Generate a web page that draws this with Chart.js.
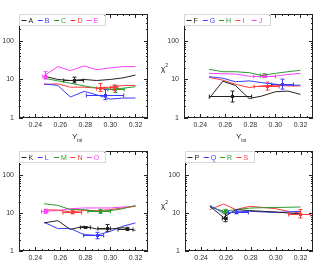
<!DOCTYPE html>
<html>
<head>
<meta charset="utf-8">
<script src="https://cdn.jsdelivr.net/npm/chart.js@4.4.0/dist/chart.umd.min.js"></script>
<style>
body { margin: 0; width: 333px; height: 267px; position: relative; background: #fff; overflow: hidden; font-family: "Liberation Sans", Arial, sans-serif; }
canvas { position: absolute; left: 0; top: 0; }
.lbl { position: absolute; font-size: 8px; color: #222; white-space: nowrap; line-height: 8px; }
.lbl sub, .lbl sup { font-size: 5px; }
</style>
</head>
<body>
<canvas id="p1" width="333" height="267"></canvas>
<canvas id="p2" width="333" height="267"></canvas>
<canvas id="p3" width="333" height="267"></canvas>
<canvas id="p4" width="333" height="267"></canvas>
<div class="lbl" style="left:72px;top:133px">Y<sub>ini</sub></div>
<div class="lbl" style="left:236px;top:133px">Y<sub>ini</sub></div>
<div class="lbl" style="left:161px;top:61px">χ<sup>2</sup></div>
<div class="lbl" style="left:161px;top:198px">χ<sup>2</sup></div>
<script>
// valores
const xVals = [0.247, 0.258, 0.268, 0.279, 0.289, 0.300, 0.310, 0.320];
const xTickLabels = [0.24, 0.26, 0.28, 0.30, 0.32];
const yTickLabels = [1, 10, 100];

// panel 1
const serieA = [12.2, 10.0, 9.4, 10.0, 9.4, 10.0, 11.0, 13.0];
const serieB = [7.7, 7.0, 3.5, 4.9, 4.0, 3.1, 3.3, 3.3];
const serieC = [10.8, 9.2, 8.0, 6.8, 6.0, 5.6, 5.9, 6.5];
const serieD = [7.4, 7.7, 6.3, 6.3, 6.0, 6.3, 7.0, 7.0];
const serieE = [12.5, 21.6, 16.9, 22.4, 18.0, 19.9, 21.6, 21.6];
// panel 2
const serieF = [3.2, 9.0, 7.0, 3.2, 3.7, 4.8, 5.0, 4.1];
const serieG = [11.8, 10.8, 8.7, 9.2, 8.3, 7.5, 7.1, 7.1];
const serieH = [18.3, 15.9, 15.9, 15.0, 12.7, 14.4, 15.9, 17.3];
const serieI = [11.3, 9.6, 7.5, 6.2, 6.8, 7.1, 6.8, 6.8];
const serieJ = [14.4, 14.1, 13.8, 12.2, 11.7, 12.2, 13.5, 14.4];
// panel 3
const serieK = [5.5, 6.3, 3.7, 4.5, 3.8, 3.8, 4.1, 3.5];
const serieL = [5.7, 3.9, 3.9, 2.7, 2.6, 3.3, 4.5, 5.5];
const serieM = [17.6, 15.9, 12.3, 12.3, 11.1, 11.6, 13.0, 15.9];
const serieN = [12.3, 12.0, 10.7, 11.6, 11.6, 12.3, 13.6, 15.0];
const serieO = [11.1, 11.6, 13.0, 13.6, 13.6, 13.6, 14.4, 15.0];
// panel 4
const serieP = [15.0, 7.7, 12.3, 11.6, 11.1, 10.7, 10.0, 9.5];
const serieQ = [15.9, 10.0, 10.7, 11.1, 10.7, 10.3, 10.7, 11.1];
const serieR = [14.5, 11.1, 12.3, 13.5, 13.8, 14.0, 14.2, 14.4];
const serieS = [12.3, 17.3, 12.3, 15.0, 14.1, 13.0, 11.1, 10.0];

// puntos con barras de error: [x, y, xmin, xmax, ymin, ymax]
const errA = [[0.2707, 9.6, 0.2627, 0.2786, 8.2, 11.5]];
const errB = [[0.296, 3.9, 0.2808, 0.3106, 3.0, 5.5]];
const errC = [[0.3035, 5.7, 0.298, 0.311, 4.6, 7.0]];
const errD = [[0.292, 6.0, 0.289, 0.295, 4.9, 7.8], [0.303, 6.2, 0.300, 0.306, 5.1, 7.2]];
const errE = [[0.2475, 12.5, 0.246, 0.249, 10.2, 15.9]];
const errF = [[0.265, 3.7, 0.2472, 0.281, 2.6, 5.0]];
const errG = [[0.305, 7.5, 0.297, 0.3144, 5.6, 10.2]];
const errH = [[0.2907, 12.7, 0.288, 0.293, 11.5, 14.0]];
const errI = [[0.2935, 6.8, 0.283, 0.303, 5.3, 8.5]];
const errJ = [[0.2907, 12.5, 0.2827, 0.300, 11.6, 13.5]];
const errK = [[0.297, 4.1, 0.290, 0.300, 3.3, 5.0], [0.313, 3.9, 0.306, 0.318, 3.6, 4.2], [0.280, 4.2, 0.276, 0.284, 4.0, 4.4]];
const errL = [[0.289, 2.6, 0.2786, 0.2946, 2.1, 3.1]];
const errM = [[0.2918, 11.0, 0.282, 0.300, 9.8, 12.5]];
const errN = [[0.2692, 10.5, 0.262, 0.277, 9.5, 11.8]];
const errO = [[0.2475, 11.1, 0.245, 0.250, 9.8, 12.6]];
const errP = [[0.259, 7.4, 0.257, 0.261, 5.9, 9.5]];
const errQ = [[0.268, 10.7, 0.262, 0.278, 9.5, 12.0]];
const errR = [[0.259, 11.1, 0.257, 0.261, 10.0, 12.5]];
const errS = [[0.3197, 9.5, 0.3104, 0.3278, 7.4, 12.3]];

const NEGRO = '#222222', AZUL = '#3a3aff', VERDE = '#2f9a2f', ROJO = '#ff3a3a', MAGENTA = '#ff40ff';

// marco, marcas de ejes, barras de error y leyenda
const marcoPlugin = {
    id: 'marco',
    afterDatasetsDraw(chart, args, opts) {
        const { ctx, chartArea: a, scales: { x, y } } = chart;
        ctx.save();
        ctx.lineWidth = 1;

        // barras de error
        chart.data.datasets.forEach(ds => {
            (ds.errores || []).forEach(e => {
                const px = Math.round(x.getPixelForValue(e[0])) + 0.5;
                const py = Math.round(y.getPixelForValue(e[1])) + 0.5;
                const x0 = x.getPixelForValue(e[2]), x1 = x.getPixelForValue(e[3]);
                const y0 = y.getPixelForValue(e[4]), y1 = y.getPixelForValue(e[5]);
                ctx.strokeStyle = ds.borderColor;
                ctx.beginPath();
                ctx.moveTo(x0, py); ctx.lineTo(x1, py);
                ctx.moveTo(x0, py - 2); ctx.lineTo(x0, py + 2);
                ctx.moveTo(x1, py - 2); ctx.lineTo(x1, py + 2);
                ctx.moveTo(px, y0); ctx.lineTo(px, y1);
                ctx.moveTo(px - 2, y0); ctx.lineTo(px + 2, y0);
                ctx.moveTo(px - 2, y1); ctx.lineTo(px + 2, y1);
                ctx.stroke();
                ctx.fillStyle = ds.borderColor;
                ctx.fillRect(px - 1.5, py - 1.5, 3, 3);
            });
        });

        // marcas
        ctx.strokeStyle = NEGRO;
        ctx.beginPath();
        for (let v = 0.23; v <= 0.3301; v += 0.005) {
            if (v < x.min || v > x.max) continue;
            const px = Math.round(x.getPixelForValue(v)) + 0.5;
            const mayor = xTickLabels.some(t => Math.abs(t - v) < 1e-6);
            const l = mayor ? 4 : 2;
            ctx.moveTo(px, a.bottom); ctx.lineTo(px, a.bottom - l);
            ctx.moveTo(px, a.top); ctx.lineTo(px, a.top + l);
        }
        for (let d = 1; d <= 100; d *= 10) {
            for (let m = 1; m <= 9; m++) {
                const v = d * m;
                if (v > y.max) continue;
                const py = Math.round(y.getPixelForValue(v)) + 0.5;
                const l = m === 1 ? 4 : 2;
                ctx.moveTo(a.left, py); ctx.lineTo(a.left + l, py);
                ctx.moveTo(a.right, py); ctx.lineTo(a.right - l, py);
            }
        }
        ctx.stroke();
        ctx.strokeRect(Math.round(a.left) + 0.5, Math.round(a.top) + 0.5, Math.round(a.width) - 1, Math.round(a.height) - 1);

        // leyenda
        const n = chart.data.datasets.length;
        const ancho = 3 + n * 16.3;
        ctx.fillStyle = '#ffffff';
        ctx.fillRect(a.left + 1, a.top + 1, ancho, 10);
        ctx.strokeStyle = '#d8d8d8';
        ctx.strokeRect(Math.round(a.left) + 0.5, Math.round(a.top) + 0.5, Math.round(ancho) + 1, 11);
        ctx.font = '7px "Liberation Sans", Arial, sans-serif';
        ctx.textBaseline = 'middle';
        chart.data.datasets.forEach((ds, i) => {
            const x0 = a.left + 2.5 + i * 16.3;
            const yy = a.top + 6.5;
            ctx.strokeStyle = ds.borderColor;
            ctx.beginPath();
            ctx.moveTo(x0, yy); ctx.lineTo(x0 + 5, yy);
            ctx.stroke();
            ctx.fillStyle = ds.borderColor;
            ctx.fillText(ds.label, x0 + 7, yy + 0.5);
        });
        ctx.restore();
    }
};

function serie(label, color, valores, errores) {
    return {
        label: label,
        data: xVals.map((x, i) => ({ x: x, y: valores[i] })),
        borderColor: color,
        backgroundColor: color,
        borderWidth: 1,
        pointRadius: 0,
        tension: 0,
        errores: errores
    };
}

function crearPanel(id, area, ymax, datasets) {
    const ctx = document.getElementById(id).getContext('2d');
    return new Chart(ctx, {
        type: 'line',
        data: { datasets: datasets },
        options: {
            responsive: false,
            animation: false,
            events: [],
            layout: {
                padding: { left: area.left - 19, top: area.top, right: 333 - area.right, bottom: 267 - area.bottom - 12 }
            },
            scales: {
                x: {
                    type: 'linear', min: 0.227, max: 0.330,
                    grid: { display: false, drawTicks: false },
                    border: { display: false },
                    afterBuildTicks: s => { s.ticks = xTickLabels.map(v => ({ value: v })); },
                    afterFit: s => { s.height = 12; },
                    ticks: { padding: 3, color: '#333', font: { size: 7, family: '"Liberation Sans", Arial, sans-serif' }, callback: v => Number(v).toFixed(2) }
                },
                y: {
                    type: 'logarithmic', min: 1, max: ymax,
                    grid: { display: false, drawTicks: false },
                    border: { display: false },
                    afterBuildTicks: s => { s.ticks = yTickLabels.map(v => ({ value: v })); },
                    afterFit: s => { s.width = 19; },
                    ticks: { padding: 5, color: '#333', font: { size: 7, family: '"Liberation Sans", Arial, sans-serif' }, callback: v => String(v) }
                }
            },
            plugins: { legend: { display: false }, tooltip: { enabled: false } }
        },
        plugins: [marcoPlugin]
    });
}

document.addEventListener('DOMContentLoaded', () => {
    try {
        crearPanel('p1', { left: 19, top: 14, right: 148, bottom: 118 }, 500, [
            serie('A', NEGRO, serieA, errA),
            serie('B', AZUL, serieB, errB),
            serie('C', VERDE, serieC, errC),
            serie('D', ROJO, serieD, errD),
            serie('E', MAGENTA, serieE, errE)
        ]);
        crearPanel('p2', { left: 184, top: 14, right: 313, bottom: 118 }, 500, [
            serie('F', NEGRO, serieF, errF),
            serie('G', AZUL, serieG, errG),
            serie('H', VERDE, serieH, errH),
            serie('I', ROJO, serieI, errI),
            serie('J', MAGENTA, serieJ, errJ)
        ]);
        crearPanel('p3', { left: 19, top: 151, right: 148, bottom: 251 }, 430, [
            serie('K', NEGRO, serieK, errK),
            serie('L', AZUL, serieL, errL),
            serie('M', VERDE, serieM, errM),
            serie('N', ROJO, serieN, errN),
            serie('O', MAGENTA, serieO, errO)
        ]);
        crearPanel('p4', { left: 185, top: 151, right: 313, bottom: 251 }, 430, [
            serie('P', NEGRO, serieP, errP),
            serie('Q', AZUL, serieQ, errQ),
            serie('R', VERDE, serieR, errR),
            serie('S', ROJO, serieS, errS)
        ]);
    } catch (e) {
        console.error('Error al crear los paneles:', e);
    }
});
</script>
</body>
</html>
